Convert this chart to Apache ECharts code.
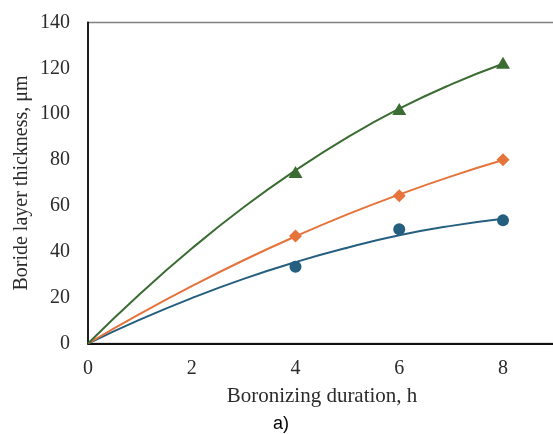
<!DOCTYPE html>
<html>
<head>
<meta charset="utf-8">
<script src="https://cdn.jsdelivr.net/npm/echarts@6/dist/echarts.min.js"></script>
<style>
  html, body { margin: 0; padding: 0; background: #fff; }
  #main { width: 553px; height: 434px; }
</style>
</head>
<body>
<div id="main"></div>
<script>
// measured durations (h)
var hours = [4, 6, 8];
// boride layer thickness, um
var blue = [33.5, 49.8, 53.7];
var orange = [46.9, 64.4, 80.1];
var green = [74.8, 102.3, 122.5];

// trend curves at 0..8 h
var trendX = [0, 1, 2, 3, 4, 5, 6, 7, 8];
var blueTrend = [0, 10.4, 19.8, 28.2, 35.5, 41.8, 47.2, 51.3, 54.4];
var orangeTrend = [0, 12.9, 25, 36.3, 46.7, 56.3, 65, 72.9, 80];
var greenTrend = [0, 21.6, 41.4, 59.4, 75.5, 89.9, 102.4, 113, 122];

var yTicks = [0, 20, 40, 60, 80, 100, 120, 140];

var C_BLUE = '#255f80';
var C_ORANGE = '#e5733a';
var C_GREEN = '#3b6d33';

function pairs(xs, ys) {
  return xs.map(function (x, i) { return [x, ys[i]]; });
}

var chart = echarts.init(document.getElementById('main'), null, { renderer: 'canvas' });

var serif = '"Liberation Serif", "Times New Roman", serif';

var option = {
  animation: false,
  grid: {
    left: 88,
    top: 22.5,
    bottom: 90.5,
    right: -53.75,
    outerBoundsMode: 'none',
    show: true,
    borderColor: '#808080',
    borderWidth: 1.5
  },
  xAxis: {
    type: 'value',
    min: 0,
    max: 10,
    interval: 2,
    axisLine: { show: true, onZero: false, lineStyle: { color: '#111', width: 1.8 } },
    axisTick: { show: false },
    splitLine: { show: false },
    axisLabel: { fontFamily: serif, fontSize: 20, color: '#2b2b2b', margin: 15 }
  },
  yAxis: {
    type: 'value',
    min: yTicks[0],
    max: yTicks[yTicks.length - 1],
    interval: 20,
    name: 'Boride layer thickness, μm',
    nameLocation: 'middle',
    nameGap: 56,
    nameMoveOverlap: false,
    nameTextStyle: { fontFamily: serif, fontSize: 20, color: '#2b2b2b' },
    axisLine: { show: true, lineStyle: { color: '#111', width: 1.8 } },
    axisTick: { show: false },
    splitLine: { show: false },
    axisLabel: { fontFamily: serif, fontSize: 20, color: '#2b2b2b', margin: 18 }
  },
  graphic: [
    {
      type: 'text',
      x: 322,
      y: 396,
      style: {
        text: 'Boronizing duration, h',
        fontFamily: serif,
        fontSize: 21,
        fill: '#2b2b2b',
        align: 'center',
        verticalAlign: 'middle'
      }
    },
    {
      type: 'text',
      x: 281,
      y: 424,
      style: {
        text: 'a)',
        fontFamily: '"Liberation Sans", Arial, sans-serif',
        fontSize: 18,
        fill: '#000',
        align: 'center',
        verticalAlign: 'middle'
      }
    }
  ],
  series: [
    {
      type: 'line', smooth: true, symbol: 'none',
      data: pairs(trendX, blueTrend),
      lineStyle: { color: C_BLUE, width: 2 }, z: 2
    },
    {
      type: 'line', smooth: true, symbol: 'none',
      data: pairs(trendX, orangeTrend),
      lineStyle: { color: C_ORANGE, width: 2 }, z: 2
    },
    {
      type: 'line', smooth: true, symbol: 'none',
      data: pairs(trendX, greenTrend),
      lineStyle: { color: C_GREEN, width: 2 }, z: 2
    },
    {
      type: 'scatter', symbol: 'circle', symbolSize: 12,
      data: pairs(hours, blue),
      itemStyle: { color: C_BLUE, opacity: 1 }, z: 3
    },
    {
      type: 'scatter', symbol: 'diamond', symbolSize: [13, 13],
      data: pairs(hours, orange),
      itemStyle: { color: C_ORANGE, opacity: 1 }, z: 3
    },
    {
      type: 'scatter', symbol: 'triangle', symbolSize: [14, 12],
      data: pairs(hours, green),
      itemStyle: { color: C_GREEN, opacity: 1 }, z: 3
    }
  ]
};

chart.setOption(option);
</script>
</body>
</html>
